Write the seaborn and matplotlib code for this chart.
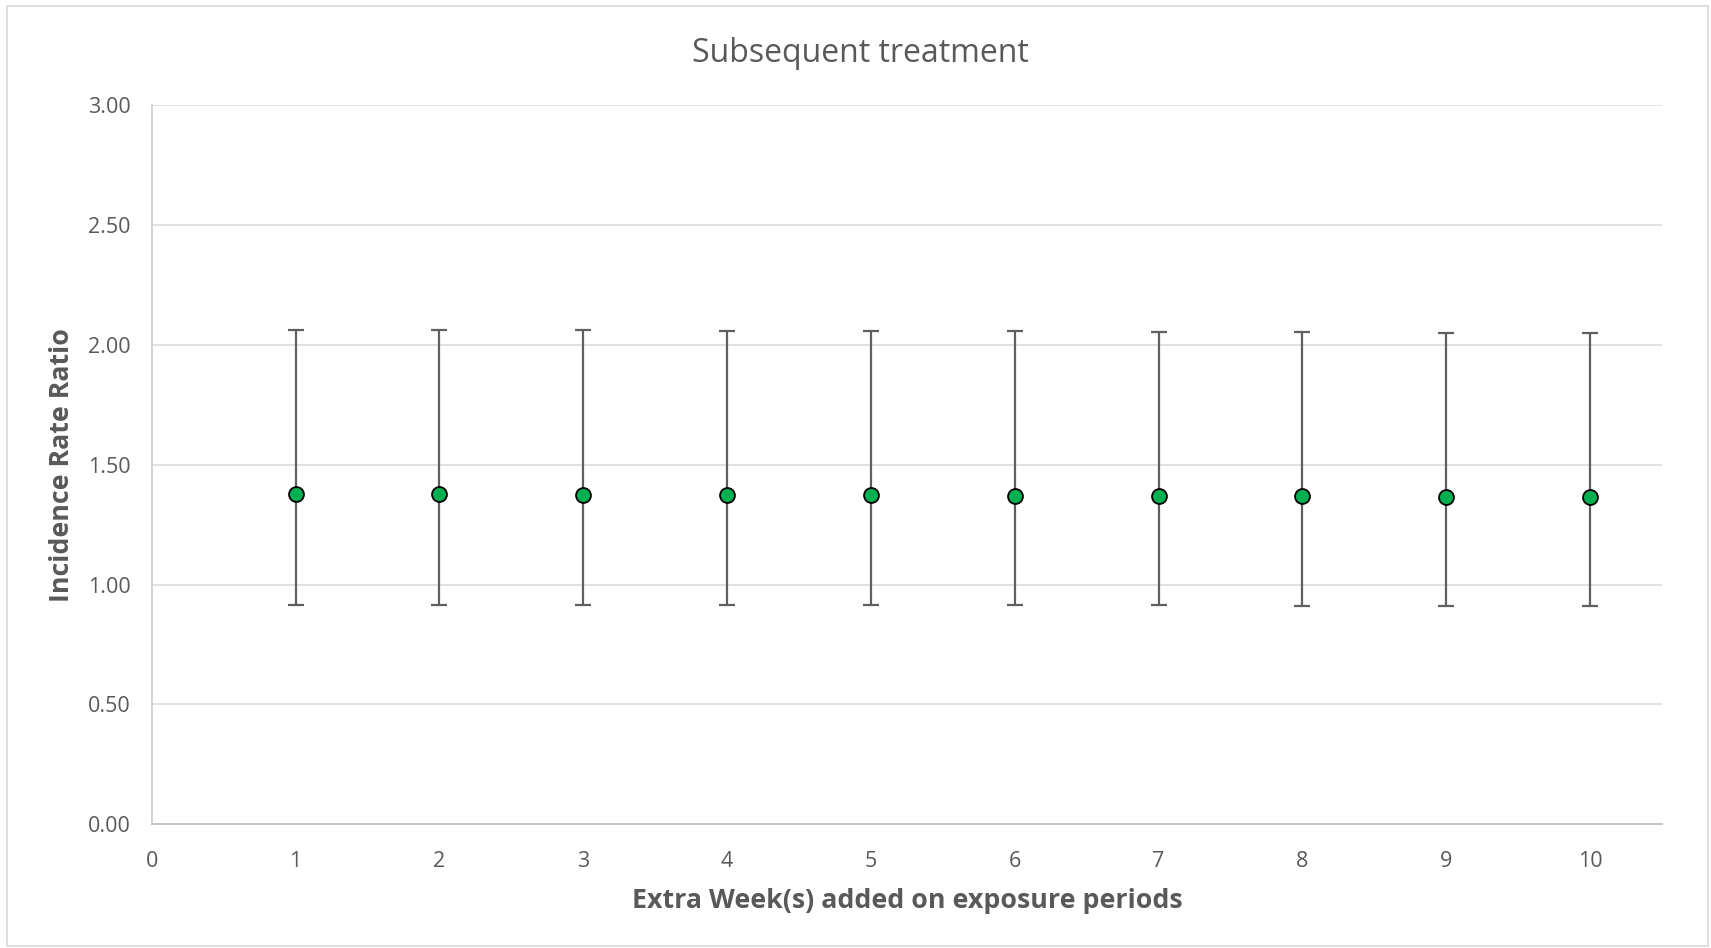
import matplotlib
matplotlib.use("Agg")
import matplotlib.pyplot as plt
import seaborn as sns
import pandas as pd
from matplotlib.patches import Rectangle

# Values
weeks = [1, 2, 3, 4, 5, 6, 7, 8, 9, 10]
irr = [1.377, 1.377, 1.375, 1.374, 1.372, 1.371, 1.369, 1.368, 1.366, 1.364]
ci_low = [0.914, 0.914, 0.914, 0.913, 0.913, 0.913, 0.913, 0.912, 0.912, 0.912]
ci_high = [2.064, 2.063, 2.061, 2.060, 2.058, 2.057, 2.055, 2.053, 2.051, 2.050]
y_ticks = [0.0, 0.5, 1.0, 1.5, 2.0, 2.5, 3.0]
x_ticks = [0, 1, 2, 3, 4, 5, 6, 7, 8, 9, 10]

df = pd.DataFrame({"week": weeks, "irr": irr, "low": ci_low, "high": ci_high})

sns.set_theme(style="white")
plt.rcParams["font.family"] = ["Open Sans", "DejaVu Sans"]
txt = "#595959"

fig = plt.figure(figsize=(17.11, 9.48), dpi=100)
ax = fig.add_axes([0.0887, 0.1305, 0.9713 - 0.0887, 0.889 - 0.1305])

# horizontal gridlines
for v in y_ticks[1:]:
    ax.axhline(v, color="#d9d9d9", lw=1.1, zorder=0)

ax.errorbar(df["week"], df["irr"],
            yerr=[df["irr"] - df["low"], df["high"] - df["irr"]],
            fmt="none", ecolor="#5f5f5f", elinewidth=1.6, capsize=6, capthick=1.6, zorder=2)
sns.scatterplot(data=df, x="week", y="irr", ax=ax, s=115, color="#00b050",
                edgecolor="black", linewidth=1.3, zorder=3)

ax.set_xlim(0, 10.5)
ax.set_ylim(0, 3.0)
ax.set_xticks(x_ticks)
ax.set_yticks(y_ticks)
ax.set_yticklabels([f"{v:.2f}" for v in y_ticks])
ax.tick_params(axis="both", length=0, labelsize=15.5, colors=txt)
ax.tick_params(axis="x", pad=19)
ax.tick_params(axis="y", pad=15)

for s in ["top", "right"]:
    ax.spines[s].set_visible(False)
ax.spines["left"].set_color("#c8c8c8")
ax.spines["left"].set_linewidth(1.1)
ax.spines["bottom"].set_color("#bfbfbf")
ax.spines["bottom"].set_linewidth(1.3)

ax.set_xlabel("Extra Week(s) added on exposure periods", fontsize=19.3, fontweight="bold",
              color=txt, va="center")
ax.set_ylabel("Incidence Rate Ratio", fontsize=19.3, fontweight="bold", color=txt, va="center")
ax.xaxis.set_label_coords(0.500, -0.107)
ax.yaxis.set_label_coords(-0.0594, 0.5)
fig.text(0.5027, 0.9435, "Subsequent treatment", ha="center", va="center", fontsize=23, color=txt)

# chart border like the original
fig.patches.append(Rectangle((0.004, 0.002), 0.994, 0.992, transform=fig.transFigure,
                             fill=False, edgecolor="#d9d9d9", lw=1.2))

fig.savefig("out.png", dpi=100)
